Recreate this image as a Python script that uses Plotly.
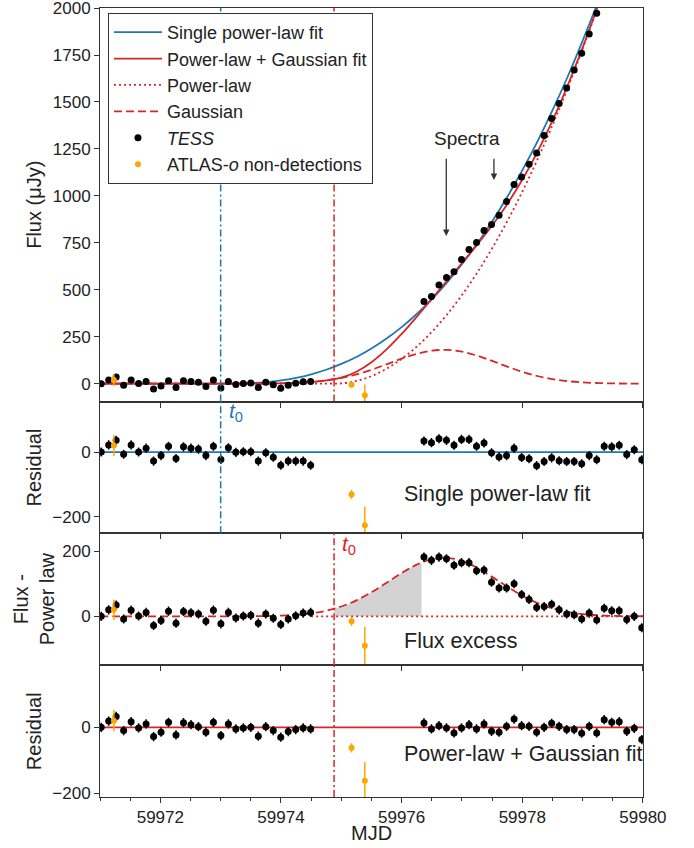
import plotly.graph_objects as go
from plotly.subplots import make_subplots

# ---------------- data ----------------
tess_time = [
    59971.02, 59971.144, 59971.268, 59971.392, 59971.516, 59971.64, 59971.764, 59971.888,
    59972.012, 59972.136, 59972.26, 59972.384, 59972.508, 59972.632, 59972.756, 59972.88,
    59973.004, 59973.128, 59973.252, 59973.376, 59973.5, 59973.624, 59973.748, 59973.872,
    59973.996, 59974.12, 59974.244, 59974.368, 59974.492,
    59976.37, 59976.4945, 59976.619, 59976.7435, 59976.868, 59976.9925, 59977.117, 59977.2415,
    59977.366, 59977.4905, 59977.615, 59977.7395, 59977.864, 59977.9885, 59978.113, 59978.2375,
    59978.362, 59978.4865, 59978.611, 59978.7355, 59978.86, 59978.9845, 59979.109, 59979.2335,
    59979.358, 59979.4825, 59979.607, 59979.7315, 59979.856, 59979.9805,
]
tess_flux = [
    0, 20, 35, -8, 19, 1, 12, -28, -13, 16, -21, 15, 11, 7, -15, 19, -23, 12, -5, 1,
    3, -21, 7, -6, -25, -8, 2, 10, 12,
    438, 464, 525, 566, 596, 661, 714, 752, 816, 848, 897, 970, 1060, 1101, 1169, 1229,
    1322, 1412, 1492, 1574, 1670, 1759, 1862, 1972, 2142, 2248, 2377, 2468, 2612, 2715,
]
tess_resid_single = [
    0, 22, 36, -7, 22, 0, 12, -28, -11, 18, -20, 16, 12, 9, -11, 18, -23, 13, -1, 1,
    1, -28, -2, -16, -41, -28, -28, -28, -41,
    34, 29, 41, 36, 21, 39, 39, 18, 28, -2, -15, -11, 12, -17, -21, -42, -29, -18, -27,
    -29, -29, -36, -11, -24, 18, 16, 21, -8, 7, -24,
]
tess_flux_minus_pl = [
    0, 20, 35, -8, 19, 1, 12, -28, -13, 16, -21, 15, 11, 7, -15, 19, -23, 12, -5, 1,
    3, -21, 7, -6, -25, -8, 2, 10, 12,
    182, 172, 182, 177, 157, 165, 165, 140, 142, 105, 87, 87, 100, 67, 52, 27, 30, 37,
    20, 7, 5, -8, 10, -11, 25, 17, 17, -10, 0, -35,
]
tess_resid_plg = [
    0, 19, 33, -10, 17, -2, 10, -28, -15, 15, -23, 14, 8, 2, -15, 15, -25, 10, -5, -2,
    0, -27, 2, -10, -30, -13, -7, -2, -5,
    13, -5, 5, -2, -17, -2, 8, -5, 10, -12, -15, 3, 25, 5, 3, -15, 0, 12, 3, -7, -7,
    -18, 3, -17, 23, 15, 17, -12, -3, -37,
]
TESS_ERR = 14

atlas_time = [59971.23, 59975.17, 59975.39]
atlas_flux = [20, -6, -62]
atlas_resid_single = [20, -131, -226]
atlas_flux_minus_pl = [20, -15, -90]
atlas_resid_plg = [20, -62, -162]
atlas_err = [32, 14, 57]

model_time = [
    59971.0, 59971.25, 59971.5, 59971.75, 59972.0, 59972.25, 59972.5, 59972.75,
    59973.0, 59973.25, 59973.5, 59973.75, 59974.0, 59974.25, 59974.5, 59974.75,
    59975.0, 59975.25, 59975.5, 59975.75, 59976.0, 59976.25, 59976.5, 59976.75,
    59977.0, 59977.25, 59977.5, 59977.75, 59978.0, 59978.25, 59978.5, 59978.75,
    59979.0, 59979.25, 59979.5, 59979.75, 59980.0,
]
model_single = [
    0, 0, 0, 0, 0, 0, 0, 0, 0, 0.5, 3, 8, 17, 31, 50, 74, 105, 142, 187, 240, 301,
    371, 449, 538, 636, 745, 864, 994, 1136, 1289, 1455, 1633, 1825, 2029, 2247, 2479, 2725,
]
model_plg = [
    0, 0, 0, 0, 0, 0, 0, 0, 0, 0.1, 0.3, 0.8, 2.0, 4.4, 9.0, 17.2, 31.7, 63.6, 114.4,
    182.6, 264.7, 355.9, 451.2, 547.2, 642.2, 739.1, 842.0, 956.0, 1085.5, 1233.3,
    1400.4, 1586.1, 1789.2, 2008.5, 2242.6, 2490.9, 2752.7,
]
model_pl = [
    0, 0, 0, 0, 0, 0, 0, 0, 0, 0, 0, 0, 0, 0, 0, 0, 1.5, 14.4, 40.4, 79.5, 131.7,
    197.1, 275.6, 367.2, 471.9, 589.8, 720.8, 864.9, 1022.1, 1192.5, 1376.0, 1572.6,
    1782.3, 2005.2, 2241.2, 2490.3, 2752.5,
]
model_gauss = [
    0, 0, 0, 0, 0, 0, 0, 0, 0, 0.1, 0.3, 0.8, 2.0, 4.4, 9.0, 17.2, 30.2, 49.2, 74.0,
    103.1, 133.0, 158.8, 175.6, 179.7, 170.3, 149.3, 121.2, 91.1, 63.4, 40.8, 24.4,
    13.5, 6.9, 3.3, 1.4, 0.6, 0.2,
]
excess_fill_time = [59974.88, 59975.0, 59975.25, 59975.5, 59975.75, 59976.0, 59976.25, 59976.33]
excess_fill_flux = [23, 30, 49, 74, 103, 133, 159, 165]

t0_single = 59973.0
t0_plg = 59974.88
spectra_mjd = [59976.74, 59977.53]
spectra_tip = [786, 1085]
spectra_tail = 1206

x_ticks = [59972, 59974, 59976, 59978, 59980]
flux_ticks = [0, 250, 500, 750, 1000, 1250, 1500, 1750, 2000]
resid_ticks = [-200, 0, 200]

# ---------------- styling ----------------
BLUE = "#1f77b4"
RED = "#d62728"
ORANGE = "#ffa500"
AX = "#333333"
FONT = "Liberation Sans, Arial, sans-serif"
LW = 1.8

fig = make_subplots(rows=4, cols=1, shared_xaxes=True, vertical_spacing=0,
                    row_heights=[394, 132, 132, 132])

def err(arr):
    return dict(type="data", array=arr, thickness=1.5, width=0, color=ORANGE)

tess_err_style = dict(type="constant", value=TESS_ERR, thickness=1.5, width=0, color="black")

# ---- panel 1 ----
fig.add_trace(go.Scatter(x=model_time, y=model_single, mode="lines", name="Single power-law fit",
                         line=dict(color=BLUE, width=LW, shape="spline")), row=1, col=1)
fig.add_trace(go.Scatter(x=model_time, y=model_plg, mode="lines", name="Power-law + Gaussian fit",
                         line=dict(color=RED, width=LW, shape="spline")), row=1, col=1)
fig.add_trace(go.Scatter(x=model_time, y=model_pl, mode="lines", name="Power-law",
                         line=dict(color=RED, width=LW, shape="spline", dash="2px,3px")), row=1, col=1)
fig.add_trace(go.Scatter(x=model_time, y=model_gauss, mode="lines", name="Gaussian",
                         line=dict(color=RED, width=LW, shape="spline", dash="8px,4px")), row=1, col=1)
fig.add_trace(go.Scatter(x=tess_time, y=tess_flux, mode="markers", name="<i>TESS</i>",
                         marker=dict(color="black", size=7), error_y=tess_err_style), row=1, col=1)
fig.add_trace(go.Scatter(x=atlas_time, y=atlas_flux, mode="markers", name="ATLAS-<i>o</i> non-detections",
                         marker=dict(color=ORANGE, size=6), error_y=err(atlas_err)), row=1, col=1)

# ---- panel 2 ----
fig.add_trace(go.Scatter(x=tess_time, y=tess_resid_single, mode="markers", showlegend=False,
                         marker=dict(color="black", size=7), error_y=tess_err_style), row=2, col=1)
fig.add_trace(go.Scatter(x=atlas_time, y=atlas_resid_single, mode="markers", showlegend=False,
                         marker=dict(color=ORANGE, size=6), error_y=err(atlas_err)), row=2, col=1)

# ---- panel 3 ----
fig.add_trace(go.Scatter(x=excess_fill_time, y=excess_fill_flux, mode="lines", showlegend=False,
                         line=dict(width=0, shape="spline"), fill="tozeroy",
                         fillcolor="#d3d3d3", hoverinfo="skip"), row=3, col=1)
fig.add_trace(go.Scatter(x=model_time[14:], y=[0] * len(model_time[14:]), mode="lines", showlegend=False,
                         line=dict(color=RED, width=LW, dash="2px,3px")), row=3, col=1)
fig.add_trace(go.Scatter(x=model_time, y=model_gauss, mode="lines", showlegend=False,
                         line=dict(color=RED, width=LW, shape="spline", dash="8px,4px")), row=3, col=1)
fig.add_trace(go.Scatter(x=tess_time, y=tess_flux_minus_pl, mode="markers", showlegend=False,
                         marker=dict(color="black", size=7), error_y=tess_err_style), row=3, col=1)
fig.add_trace(go.Scatter(x=atlas_time, y=atlas_flux_minus_pl, mode="markers", showlegend=False,
                         marker=dict(color=ORANGE, size=6), error_y=err(atlas_err)), row=3, col=1)

# ---- panel 4 ----
fig.add_trace(go.Scatter(x=tess_time, y=tess_resid_plg, mode="markers", showlegend=False,
                         marker=dict(color="black", size=7), error_y=tess_err_style), row=4, col=1)
fig.add_trace(go.Scatter(x=atlas_time, y=atlas_resid_plg, mode="markers", showlegend=False,
                         marker=dict(color=ORANGE, size=6), error_y=err(atlas_err)), row=4, col=1)

# ---- shapes: zero lines and t0 lines ----
shapes = []
shapes.append(dict(type="line", xref="x2 domain", yref="y2", x0=0, x1=1, y0=0, y1=0,
                   line=dict(color=BLUE, width=LW), layer="below"))
shapes.append(dict(type="line", xref="x4 domain", yref="y4", x0=0, x1=1, y0=0, y1=0,
                   line=dict(color=RED, width=LW), layer="below"))
DASHDOT = "7px,3px,2px,3px"
for yr in ["y domain", "y2 domain"]:
    shapes.append(dict(type="line", xref="x", yref=yr, x0=t0_single, x1=t0_single, y0=0, y1=1,
                       line=dict(color=BLUE, width=1.5, dash=DASHDOT)))
for yr in ["y domain", "y3 domain", "y4 domain"]:
    shapes.append(dict(type="line", xref="x", yref=yr, x0=t0_plg, x1=t0_plg, y0=0, y1=1,
                       line=dict(color=RED, width=1.5, dash=DASHDOT)))
fig.update_layout(shapes=shapes)

# ---- annotations ----
ann = []
ann.append(dict(x=59977.09, y=1306, xref="x", yref="y", text="Spectra", showarrow=False,
                font=dict(size=19, color="#222")))
for xm, tip in zip(spectra_mjd, spectra_tip):
    ann.append(dict(x=xm, y=tip, ax=xm, ay=spectra_tail, xref="x", yref="y", axref="x", ayref="y",
                    text="", showarrow=True, arrowhead=2, arrowsize=1, arrowwidth=1.3,
                    arrowcolor="#333"))
ann.append(dict(x=t0_single + 0.11, y=124, xref="x", yref="y2", text="<i>t</i><sub>0</sub>",
                showarrow=False, xanchor="left", font=dict(size=21, color=BLUE)))
ann.append(dict(x=t0_plg + 0.1, y=218, xref="x", yref="y3", text="<i>t</i><sub>0</sub>",
                showarrow=False, xanchor="left", font=dict(size=21, color=RED)))
ann.append(dict(x=59976.0, y=-131, xref="x", yref="y2", text="Single power-law fit",
                showarrow=False, xanchor="left", font=dict(size=21.5, color="#222")))
ann.append(dict(x=59976.0, y=-76, xref="x", yref="y3", text="Flux excess",
                showarrow=False, xanchor="left", font=dict(size=21.5, color="#222")))
ann.append(dict(x=59976.0, y=-80, xref="x", yref="y4", text="Power-law + Gaussian fit",
                showarrow=False, xanchor="left", font=dict(size=21.5, color="#222")))
# axis titles
TX = -0.1215
for txt, yc in [("Flux (μJy)", 0.7506), ("Residual", 0.4177),
                ("Flux -<br>Power law", 0.2506), ("Residual", 0.0835)]:
    ann.append(dict(x=TX, y=yc, xref="paper", yref="paper", text=txt, showarrow=False,
                    textangle=-90, xanchor="center", yanchor="middle",
                    font=dict(size=20, color="#222")))
ann.append(dict(x=0.5, y=-0.0456, xref="paper", yref="paper", text="MJD", showarrow=False,
                xanchor="center", yanchor="middle", font=dict(size=20, color="#222")))
fig.update_layout(annotations=ann)

# ---- axes ----
common = dict(showline=True, mirror=True, linecolor=AX, linewidth=1, ticks="outside",
              ticklen=5, tickcolor=AX, showgrid=False, zeroline=False, automargin=False,
              ticklabeloverflow="allow", tickfont=dict(size=17, color="#222"))
for r in range(1, 5):
    fig.update_xaxes(range=[59971, 59980.001], tickvals=x_ticks, tickformat="d", row=r, col=1, **common)
    fig.update_xaxes(showticklabels=(r == 4), row=r, col=1)
fig.update_xaxes(minor=dict(dtick=0.5, tick0=59971, ticks="outside", ticklen=3, tickcolor=AX),
                 row=4, col=1)
fig.update_yaxes(range=[-95, 2000.5], tickvals=flux_ticks, tickformat="d", row=1, col=1, **common)
fig.update_yaxes(range=[-251, 156], tickvals=resid_ticks, tickformat="d", row=2, col=1, **common)
fig.update_yaxes(range=[-150, 255], tickvals=resid_ticks, tickformat="d", row=3, col=1, **common)
fig.update_yaxes(range=[-211, 188], tickvals=resid_ticks, tickformat="d", row=4, col=1, **common)

fig.update_layout(
    width=694, height=848,
    margin=dict(l=100, r=51, t=8, b=51, autoexpand=False),
    paper_bgcolor="white", plot_bgcolor="white",
    font=dict(family=FONT, size=17, color="#222"),
    legend=dict(x=0.0147, y=0.9937, xanchor="left", yanchor="top",
                bgcolor="white", bordercolor=AX, borderwidth=1,
                font=dict(size=18, color="#222"), itemwidth=48, tracegroupgap=0),
)

fig.write_html("out.html", config={"displayModeBar": False},
               post_script="document.body.style.margin='0';document.body.style.padding='0';")
